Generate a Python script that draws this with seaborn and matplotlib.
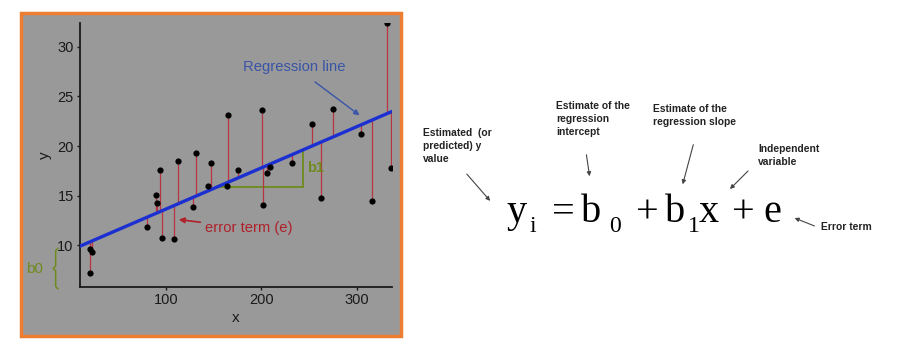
import matplotlib
matplotlib.use("Agg")
import numpy as np
import pandas as pd
import matplotlib.pyplot as plt
import seaborn as sns
from matplotlib.patches import Rectangle, FancyArrowPatch

# --- DATA ---
x_vals = [20, 20, 23, 80, 89.5, 90.5, 94, 96, 108, 112.5, 128, 132, 144, 147,
          164, 165, 176, 200.5, 202, 206, 209, 232.5, 253, 263, 275, 304, 316, 332, 336]
y_vals = [9.6, 7.2, 9.3, 11.8, 15.1, 14.3, 17.6, 10.7, 10.6, 18.5, 13.9, 19.3, 16.0, 18.3,
          16.0, 23.1, 17.6, 23.6, 14.1, 17.3, 17.9, 18.3, 22.2, 14.8, 23.7, 21.2, 14.5, 32.4, 17.8]
b0 = 9.5          # intercept of the drawn line
b1 = 0.0415       # slope of the drawn line
line_x = [10, 337]
slope_run = [154, 244]   # green slope triangle
x_ticks = [100, 200, 300]
y_ticks = [10, 15, 20, 25, 30]

W, H = 908, 364
GRAY = "#999999"
RED = "#b8343f"
GREEN = "#6f8b1f"
BLUE = "#1c2fd0"

sns.set_style("ticks")
plt.rcParams["font.family"] = ["Liberation Sans", "DejaVu Sans"]


def fx(px):
    return px / W


def fy(py):
    return 1 - py / H


df = pd.DataFrame({"x": x_vals, "y": y_vals})
df["fit"] = b0 + b1 * df["x"]
line_df = pd.DataFrame({"x": line_x})
line_df["y"] = b0 + b1 * line_df["x"]

fig = plt.figure(figsize=(W / 100, H / 100), dpi=100)
fig.patch.set_facecolor("white")

# orange framed gray panel
fig.patches.append(Rectangle((fx(21), fy(336)), fx(380), 323 / H, transform=fig.transFigure,
                             facecolor=GRAY, edgecolor="#ed7d31", lw=2.5, zorder=-5))

ax = fig.add_axes([fx(80), fy(287), fx(312), 264 / H])
ax.set_facecolor("none")

# residuals
ax.vlines(df["x"], df["y"], df["fit"], color=RED, lw=0.9, zorder=2)
# regression line
sns.lineplot(data=line_df, x="x", y="y", color=BLUE, lw=2.4, ax=ax, zorder=3)
# points
sns.scatterplot(data=df, x="x", y="y", color="black", s=20, linewidth=0, ax=ax, zorder=4)

# slope triangle
y_run = b0 + b1 * slope_run[0]
y_rise = b0 + b1 * slope_run[1]
ax.plot(slope_run, [y_run, y_run], color=GREEN, lw=1.3, zorder=1)
ax.plot([slope_run[1], slope_run[1]], [y_run, y_rise], color=GREEN, lw=1.3, zorder=1)
ax.text(slope_run[1] + 4, (y_run + y_rise) / 2, "b1", color=GREEN, fontsize=10.5,
        fontweight="bold", va="center", ha="left")

ax.set_xlim(10, 337)
ax.set_ylim(5.8, 32.4)
ax.set_xticks(x_ticks)
ax.set_yticks(y_ticks)
ax.tick_params(length=2.5, width=1, pad=2, labelsize=10.5, colors="#1a1a1a")
for side in ["left", "bottom"]:
    ax.spines[side].set_linewidth(1.3)
    ax.spines[side].set_color("#1a1a1a")
sns.despine(ax=ax)
ax.set_xlabel("x", fontsize=11, color="#1a1a1a", labelpad=3)
ax.set_ylabel("y", fontsize=11, color="#1a1a1a", labelpad=4)

# intercept brace (outside the axes)
yb_top, yb_bot = b0 + b1 * line_x[0] - 0.2, 5.6
ym = (yb_top + yb_bot) / 2
bx = [-13, -15.5, -15.5, -18, -15.5, -15.5, -13]
by = [yb_top, yb_top - 0.25, ym + 0.25, ym, ym - 0.25, yb_bot + 0.25, yb_bot]
ax.plot(bx, by, color=GREEN, lw=1.1, clip_on=False)
ax.text(-29, ym, "b0", color=GREEN, fontsize=11, va="center", ha="right", clip_on=False)

# callouts
ax.annotate("Regression line", xy=(303, 23.1), xytext=(235, 28.0), color="#3a55a8",
            fontsize=10.7, ha="center", va="center",
            arrowprops=dict(arrowstyle="-|>", color="#3a55a8", lw=1.0, mutation_scale=8,
                            shrinkA=6, shrinkB=0))
ax.annotate("error term (e)", xy=(113.5, 12.6), xytext=(141, 11.7), color="#b0202a",
            fontsize=10.6, ha="left", va="center",
            arrowprops=dict(arrowstyle="-|>", color="#b0202a", lw=1.2, mutation_scale=8,
                            shrinkA=1, shrinkB=0))

# --- equation side ---
serif = ["Liberation Serif", "DejaVu Serif"]
main_pieces = [("y", 507), ("=", 552), ("b", 581), ("+", 636), ("b", 665), ("x", 699),
               ("+", 732), ("e", 763)]
sub_pieces = [("i", 530), ("0", 609), ("1", 688)]
for s, px in main_pieces:
    fig.text(fx(px), fy(222), s, family=serif, fontsize=29, ha="left", va="baseline",
             color="black")
for s, px in sub_pieces:
    fig.text(fx(px), fy(232), s, family=serif, fontsize=17, ha="left", va="baseline",
             color="black")

label_font = dict(family=["Liberation Sans", "DejaVu Sans"],
                  fontsize=7.4, fontweight="bold", color="#222222", linespacing=1.38,
                  ha="left", va="top")
fig.text(fx(423), fy(128), "Estimated  (or\npredicted) y\nvalue", **label_font)
fig.text(fx(556), fy(101), "Estimate of the\nregression\nintercept", **label_font)
fig.text(fx(653), fy(104), "Estimate of the\nregression slope", **label_font)
fig.text(fx(758), fy(144), "Independent\nvariable", **label_font)
fig.text(fx(821), fy(222), "Error term", **label_font)

arrows = [((465, 172), (492, 203)),
          ((586, 152), (590, 179)),
          ((694, 142), (682, 187)),
          ((750, 169), (728, 191)),
          ((817, 227), (792, 217))]
for (x0, y0), (x1, y1) in arrows:
    fig.add_artist(FancyArrowPatch(
        (fx(x0), fy(y0)), (fx(x1), fy(y1)), transform=fig.transFigure,
        arrowstyle="-|>", mutation_scale=6, color="#444444", lw=0.8))

fig.savefig("out.png", dpi=100)
